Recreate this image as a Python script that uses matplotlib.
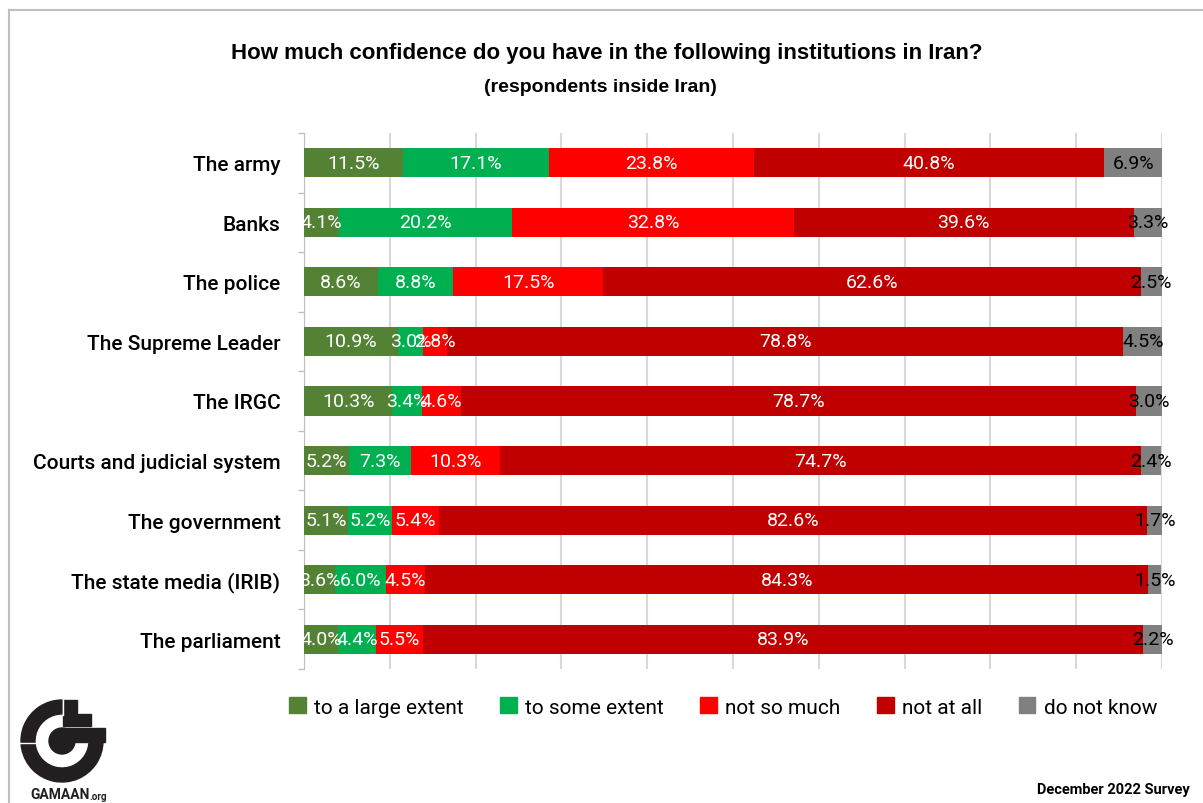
import numpy as np
import matplotlib.pyplot as plt
from matplotlib.patches import Patch, Rectangle, Wedge, Circle

plt.rcParams['font.family'] = ['Roboto', 'DejaVu Sans']

institutions = ["The army", "Banks", "The police", "The Supreme Leader", "The IRGC",
                "Courts and judicial system", "The government", "The state media (IRIB)",
                "The parliament"]
answers = ["to a large extent", "to some extent", "not so much", "not at all", "do not know"]

large_extent = [11.5, 4.1, 8.6, 10.9, 10.3, 5.2, 5.1, 3.6, 4.0]
some_extent = [17.1, 20.2, 8.8, 3.0, 3.4, 7.3, 5.2, 6.0, 4.4]
not_so_much = [23.8, 32.8, 17.5, 2.8, 4.6, 10.3, 5.4, 4.5, 5.5]
not_at_all = [40.8, 39.6, 62.6, 78.8, 78.7, 74.7, 82.6, 84.3, 83.9]
dont_know = [6.9, 3.3, 2.5, 4.5, 3.0, 2.4, 1.7, 1.5, 2.2]

series = [large_extent, some_extent, not_so_much, not_at_all, dont_know]
colors = ["#548235", "#00B050", "#FF0000", "#C00000", "#808080"]
text_colors = ["white", "white", "white", "white", "black"]

W, H = 1203, 804
fig = plt.figure(figsize=(W / 100, H / 100), dpi=100)

# background layer in pixel coordinates: frame, logo
bg = fig.add_axes([0, 0, 1, 1], zorder=0)
bg.set_xlim(0, W)
bg.set_ylim(H, 0)
bg.axis('off')
bg.plot([9, W], [11, 11], color="#BFBFBF", lw=1.5)
bg.plot([9, 9], [11, H], color="#BFBFBF", lw=1.5)

# GAMAAN logo
cx, cy = 62, 742
bg.add_patch(Wedge((cx, cy), 41, 0, 270, width=14, color="#231F20"))
bg.add_patch(Circle((cx, cy), 13, color="#231F20"))
bg.add_patch(Rectangle((63, 701), 14, 13, color="#231F20"))
bg.add_patch(Rectangle((63, 715), 28, 12, color="#231F20"))
bg.add_patch(Rectangle((63, 729), 42, 14, color="#231F20"))
bg.plot([19, 36], [743.5, 743.5], color="white", lw=1.0)
bg.plot([62.5, 62.5], [699, 716], color="white", lw=1.0)
bg.text(30, 795, "GAMAAN", fontsize=10, fontweight='bold', color="#231F20", va='center', ha='left')
bg.text(89, 797, ".org", fontsize=7, fontweight='bold', color="#231F20", va='center', ha='left')

ax = fig.add_axes([304 / W, 1 - 670 / H, (1162 - 304) / W, (670 - 134) / H], zorder=1)
y = np.arange(len(institutions))
left = np.zeros(len(institutions))
for vals, c, tc, name in zip(series, colors, text_colors, answers):
    vals = np.array(vals)
    ax.barh(y, vals, left=left, height=0.49, color=c, label=name, zorder=3)
    for yi, l, v in zip(y, left, vals):
        ax.text(l + v / 2, yi, f"{v:.1f}%", ha='center', va='center',
                color=tc, fontsize=14, zorder=4)
    left += vals

ax.set_xlim(0, 100)
ax.set_ylim(len(institutions) - 0.5, -0.5)
ax.set_xticks(np.arange(0, 101, 10))
ax.xaxis.grid(True, color="#D9D9D9", lw=1.5, zorder=0)
ax.tick_params(axis='x', length=0, labelbottom=False)
ax.set_yticks(y)
ax.set_yticklabels(institutions, fontsize=15, fontweight='medium')
ax.set_yticks(np.arange(-0.5, len(institutions), 1), minor=True)
ax.tick_params(axis='y', which='major', length=0, pad=17)
ax.tick_params(axis='y', which='minor', length=4, color="#BFBFBF", width=1)
for s in ['top', 'right', 'bottom']:
    ax.spines[s].set_visible(False)
ax.spines['left'].set_color("#BFBFBF")

fig.text(607 / W, 1 - 53 / H,
         "How much confidence do you have in the following institutions in Iran?",
         ha='center', va='center', fontsize=16, fontweight='bold', family='Liberation Sans')
fig.text(600 / W, 1 - 87 / H, "(respondents inside Iran)",
         ha='center', va='center', fontsize=14, fontweight='bold', family='Liberation Sans')

handles = [Patch(color=c) for c in colors]
fig.legend(handles, answers, loc='center', bbox_to_anchor=(723 / W, 1 - 708 / H),
           ncol=5, frameon=False, handlelength=0.8, handleheight=0.8,
           handletextpad=0.4, columnspacing=1.75,
           prop={'size': 15})

fig.text(1190 / W, 1 - 790 / H, "December 2022 Survey", ha='right', va='center',
         fontsize=10.5, fontweight='bold')

fig.savefig("out.png", dpi=100)
